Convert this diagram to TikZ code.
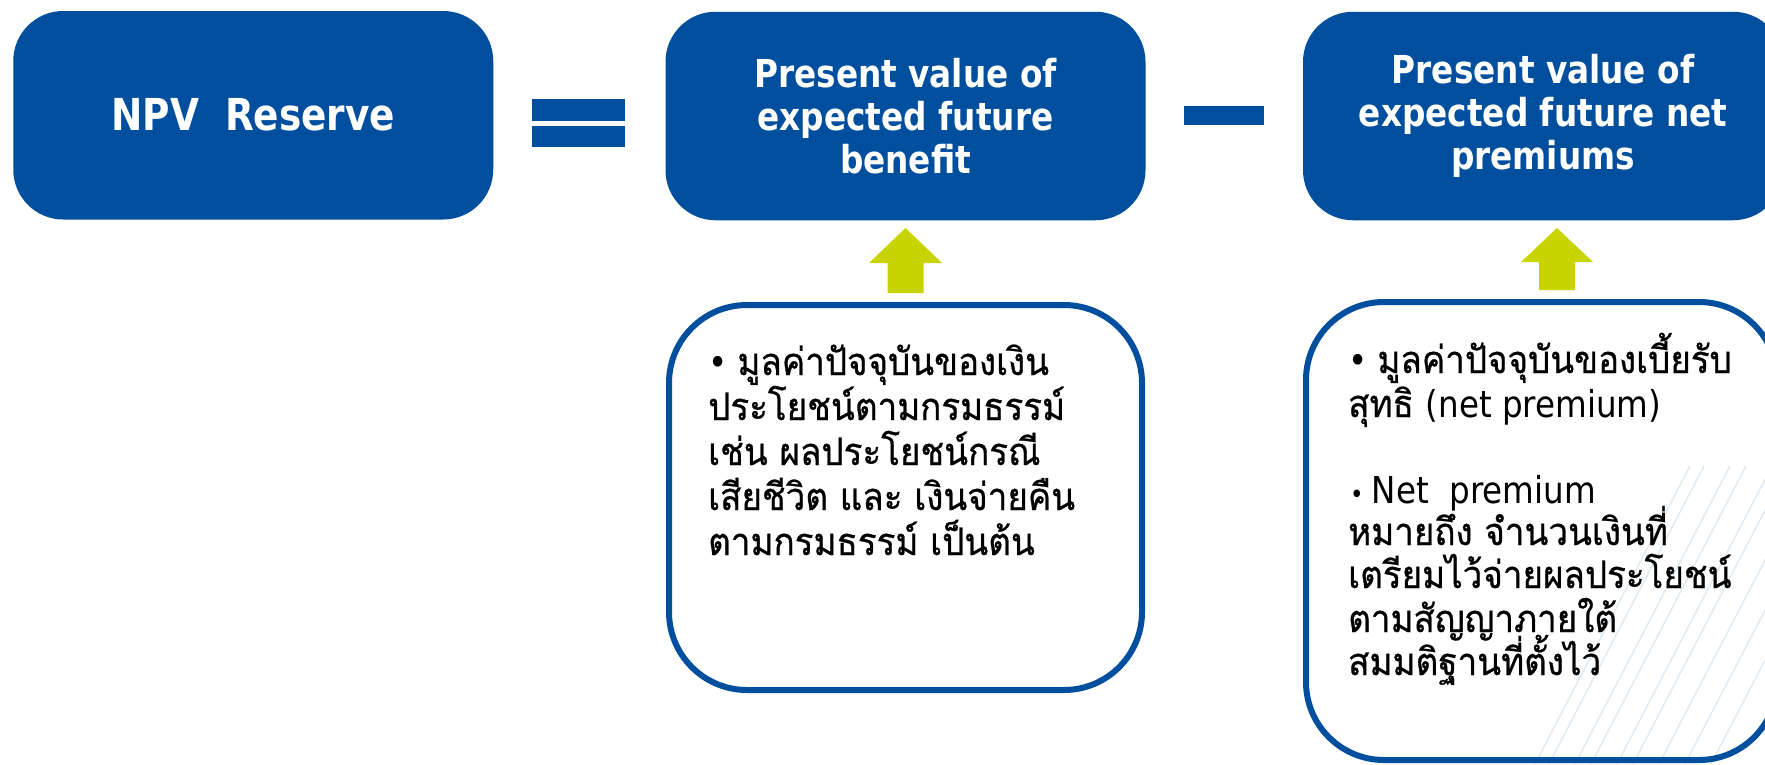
\documentclass[tikz,border=0pt]{standalone}
\usepackage{fontspec}
\newfontfamily\headfont[FakeStretch=0.85]{DejaVu Sans}
\newfontfamily\latfont[FakeStretch=0.88]{DejaVu Sans}
\newfontfamily\thaifont[Script=Thai,FakeStretch=0.92,FakeBold=0.7]{Loma}
\definecolor{boxblue}{RGB}{0,79,159}
\definecolor{arrowgreen}{RGB}{200,212,0}
\definecolor{wmark}{RGB}{222,233,240}
\tikzset{
  topbox/.style={fill=boxblue, rounded corners=50pt, minimum width=480pt, minimum height=208.5pt,
    inner sep=0pt, text=white, align=center, font=\headfont\bfseries\fontsize{38.5}{43}\selectfont},
  lowbox/.style={draw=boxblue, line width=6pt, rounded corners=78pt, inner sep=0pt},
  bar/.style={fill=boxblue, inner sep=0pt},
  tline/.style={anchor=base west, inner sep=0pt, text=black, font=\thaifont\fontsize{38}{44}\selectfont},
  blockarrow/.style={fill=arrowgreen},
  wline/.style={draw=wmark, line width=1.4pt},
}
\newcommand{\lat}[1]{{\latfont\fontsize{37}{44}\selectfont #1}}
\begin{document}
\begin{tikzpicture}[x=1pt,y=-1pt]
\clip (0,0) rectangle (1765,764);
\fill[white] (0,0) rectangle (1765,764);
% faint watermark lines
\foreach \s in {0,14,40,56,82,98,124,150,176}
  \draw[wline] (1535+\s,764) -- (1690+\s,466);
% top boxes
\node[topbox] (npv) at (253.25,115.25) {{\fontsize{44}{50}\selectfont NPV\ \ Reserve}};
\node[topbox] (pvb) at (905.5,116) {Present value of\\expected future\\benefit};
\node[topbox] (pvp) at (1543,116) {Present value of\\expected future net\\premiums};
% operators
\node[bar, minimum width=93pt, minimum height=22pt] (eqa) at (578.5,110) {};
\node[bar, minimum width=93pt, minimum height=21.5pt] (eqb) at (578.5,136.25) {};
\node[bar, minimum width=80pt, minimum height=18.5pt] (minus) at (1224,115.5) {};
% lower boxes
\node[lowbox, minimum width=473pt, minimum height=385pt] (lb1) at (905.5,497.5) {};
\node[lowbox, minimum width=471pt, minimum height=458pt] (lb2) at (1541.5,531) {};
% block arrows
\fill[blockarrow] (887.5,293) -- (887.5,263) -- (869,263) -- (905.5,228) -- (942,263) -- (923.5,263) -- (923.5,293) -- cycle;
\fill[blockarrow] (1539,290) -- (1539,262) -- (1521,262) -- (1557,228) -- (1593,262) -- (1575,262) -- (1575,290) -- cycle;
% text in lower box 1
\node[tline] (a1) at (708,375) {\lat{•}\hspace{10pt}มูลค่าปัจจุบันของเงิน};
\node[tline] (a2) at (708,420) {ประโยชน์ตามกรมธรรม์};
\node[tline] (a3) at (708,465) {เช่น ผลประโยชน์กรณี};
\node[tline] (a4) at (708,510) {เสียชีวิต และ เงินจ่ายคืน};
\node[tline] (a5) at (708,555) {ตามกรมธรรม์ เป็นต้น};
% text in lower box 2
\node[tline] (c1) at (1348,373) {\lat{•}\hspace{10pt}มูลค่าปัจจุบันของเบี้ยรับ};
\node[tline] (c2) at (1348,417) {สุทธิ \lat{(net premium)}};
\node[tline] (c3) at (1350,503) {\lat{{\fontsize{26}{30}\selectfont•}\hspace{8pt}Net\ \ premium}};
\node[tline] (c4) at (1348,545) {หมายถึง จำนวนเงินที่};
\node[tline] (c5) at (1348,588) {เตรียมไว้จ่ายผลประโยชน์};
\node[tline] (c6) at (1348,632) {ตามสัญญาภายใต้};
\node[tline] (c7) at (1348,675) {สมมติฐานที่ตั้งไว้};
\end{tikzpicture}
\end{document}
